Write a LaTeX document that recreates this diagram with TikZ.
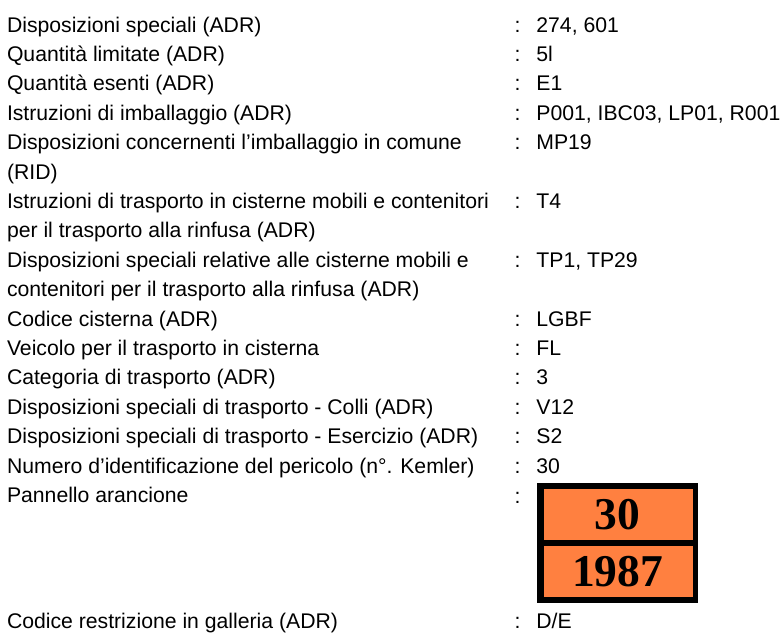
\documentclass[tikz,border=0pt]{standalone}
\usepackage{fontspec}
\setmainfont{Liberation Sans}
\newfontfamily\panelfont{Liberation Serif}
\definecolor{panelorange}{RGB}{255,128,64}
\tikzset{
  lab/.style={anchor=base west, inner sep=0pt, font=\fontsize{21.2}{25}\selectfont},
  colon/.style={anchor=base, inner sep=0pt, font=\fontsize{21.2}{25}\selectfont},
  val/.style={anchor=base west, inner sep=0pt, font=\fontsize{21.2}{25}\selectfont},
  panelnum/.style={anchor=center, inner sep=0pt, font=\panelfont\bfseries\fontsize{45.5}{50}\selectfont},
}
\begin{document}
\begin{tikzpicture}[x=1pt,y=-1pt]
\useasboundingbox (0,0) rectangle (784,633);
\def\lx{6.8}
\def\cx{517.5}
\def\vx{536.2}
% rows
\node[lab] (l1) at (\lx,32) {Disposizioni speciali (ADR)};
\node[colon] (c1) at (\cx,32) {:};
\node[val] (v1) at (\vx,32) {274, 601};
\node[lab] (l2) at (\lx,61.4) {Quantità limitate (ADR)};
\node[colon] (c2) at (\cx,61.4) {:};
\node[val] (v2) at (\vx,61.4) {5l};
\node[lab] (l3) at (\lx,90.8) {Quantità esenti (ADR)};
\node[colon] (c3) at (\cx,90.8) {:};
\node[val] (v3) at (\vx,90.8) {E1};
\node[lab] (l4) at (\lx,120.2) {Istruzioni di imballaggio (ADR)};
\node[colon] (c4) at (\cx,120.2) {:};
\node[val] (v4) at (\vx,120.2) {P001, IBC03, LP01, R001};
\node[lab] (l5) at (\lx,149.6) {Disposizioni concernenti l’imballaggio in comune};
\node[colon] (c5) at (\cx,149.6) {:};
\node[val] (v5) at (\vx,149.6) {MP19};
\node[lab] (l6) at (\lx,179) {(RID)};
\node[lab] (l7) at (\lx,208.4) {Istruzioni di trasporto in cisterne mobili e contenitori};
\node[colon] (c7) at (\cx,208.4) {:};
\node[val] (v7) at (\vx,208.4) {T4};
\node[lab] (l8) at (\lx,237.8) {per il trasporto alla rinfusa (ADR)};
\node[lab] (l9) at (\lx,267.2) {Disposizioni speciali relative alle cisterne mobili e};
\node[colon] (c9) at (\cx,267.2) {:};
\node[val] (v9) at (\vx,267.2) {TP1, TP29};
\node[lab] (l10) at (\lx,296.6) {contenitori per il trasporto alla rinfusa (ADR)};
\node[lab] (l11) at (\lx,326) {Codice cisterna (ADR)};
\node[colon] (c11) at (\cx,326) {:};
\node[val] (v11) at (\vx,326) {LGBF};
\node[lab] (l12) at (\lx,355.4) {Veicolo per il trasporto in cisterna};
\node[colon] (c12) at (\cx,355.4) {:};
\node[val] (v12) at (\vx,355.4) {FL};
\node[lab] (l13) at (\lx,384.8) {Categoria di trasporto (ADR)};
\node[colon] (c13) at (\cx,384.8) {:};
\node[val] (v13) at (\vx,384.8) {3};
\node[lab] (l14) at (\lx,414.2) {Disposizioni speciali di trasporto - Colli (ADR)};
\node[colon] (c14) at (\cx,414.2) {:};
\node[val] (v14) at (\vx,414.2) {V12};
\node[lab] (l15) at (\lx,443.6) {Disposizioni speciali di trasporto - Esercizio (ADR)};
\node[colon] (c15) at (\cx,443.6) {:};
\node[val] (v15) at (\vx,443.6) {S2};
\node[lab] (l16) at (\lx,473) {Numero d’identificazione del pericolo (n°. Kemler)};
\node[colon] (c16) at (\cx,473) {:};
\node[val] (v16) at (\vx,473) {30};
\node[lab] (l17) at (\lx,502.4) {Pannello arancione};
\node[colon] (c17) at (\cx,503.5) {:};
\node[lab] (l18) at (\lx,628) {Codice restrizione in galleria (ADR)};
\node[colon] (c18) at (\cx,628) {:};
\node[val] (v18) at (\vx,628) {D/E};
% orange panel
\fill[black] (537,483) rectangle (698,603);
\fill[panelorange] (543.5,489) rectangle (692.5,540);
\fill[panelorange] (543.5,546) rectangle (692.5,597);
\node[panelnum] (kemler) at (617.5,514.5) {30};
\node[panelnum] (un) at (617.5,571.5) {1987};
\end{tikzpicture}
\end{document}
